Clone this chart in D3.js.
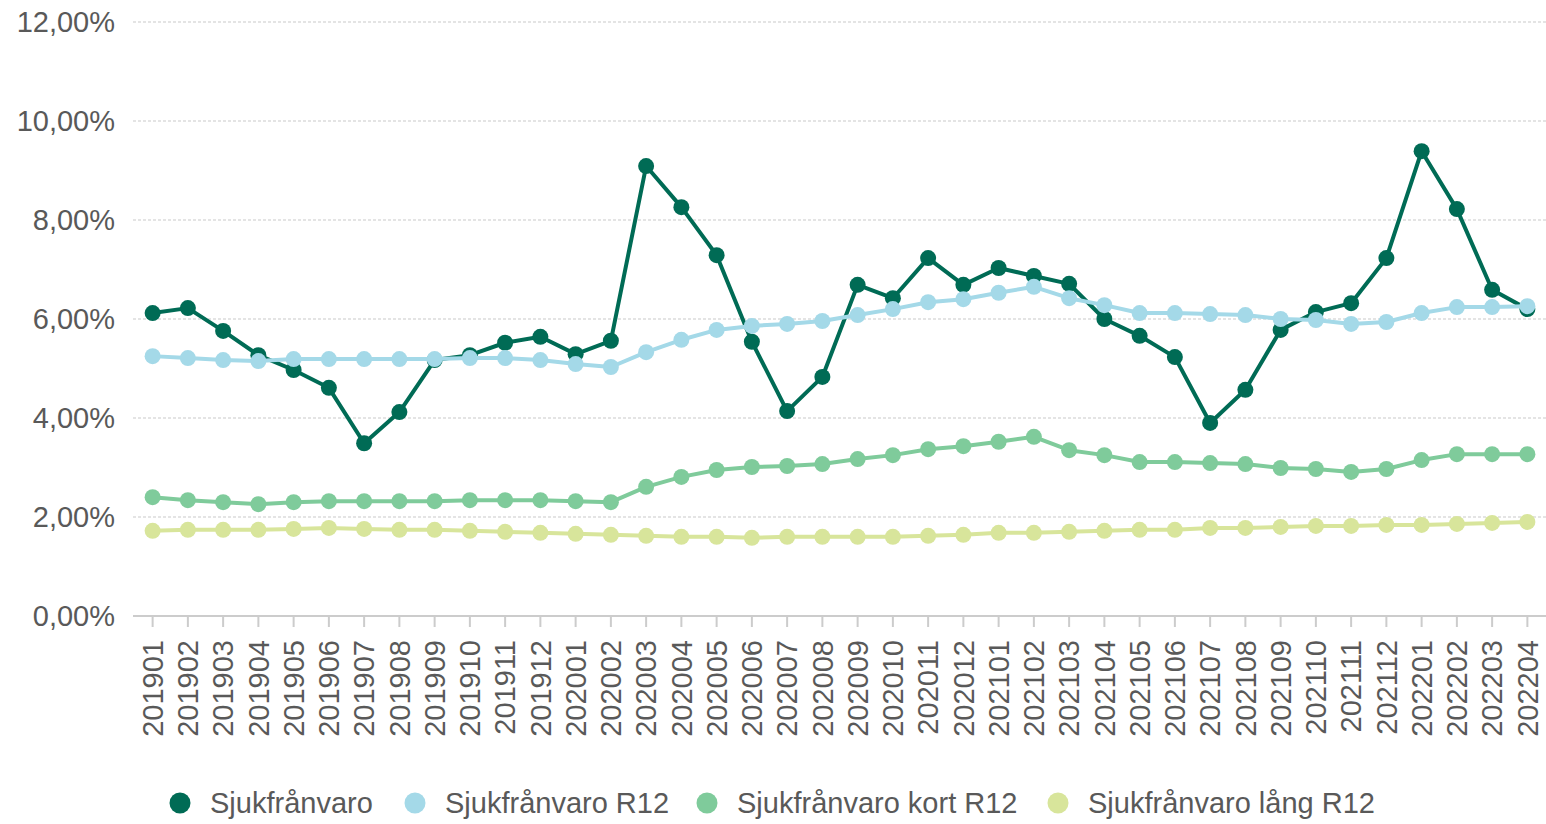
<!DOCTYPE html>
<html>
<head>
<meta charset="utf-8">
<script src="https://cdnjs.cloudflare.com/ajax/libs/d3/7.8.5/d3.min.js"></script>
<style>
  body { margin: 0; background: #fff; }
  text { font-family: "Liberation Sans", Arial, sans-serif; fill: #595959; }
</style>
</head>
<body>
<svg width="1546" height="824"></svg>
<script>
const months = ["201901","201902","201903","201904","201905","201906","201907","201908","201909","201910","201911","201912",
  "202001","202002","202003","202004","202005","202006","202007","202008","202009","202010","202011","202012",
  "202101","202102","202103","202104","202105","202106","202107","202108","202109","202110","202111","202112",
  "202201","202202","202203","202204"];

const sjuk = [6.12,6.22,5.76,5.27,4.97,4.61,3.49,4.12,5.17,5.27,5.52,5.64,
  5.29,5.56,9.09,8.26,7.29,5.54,4.14,4.83,6.69,6.42,7.23,6.69,
  7.03,6.87,6.71,6.00,5.66,5.23,3.90,4.57,5.78,6.14,6.32,7.23,
  9.39,8.22,6.59,6.20];
const sjukR12 = [5.25,5.21,5.17,5.15,5.19,5.19,5.19,5.19,5.19,5.21,5.21,5.17,
  5.09,5.03,5.33,5.58,5.78,5.86,5.90,5.96,6.08,6.20,6.34,6.40,
  6.53,6.65,6.42,6.28,6.12,6.12,6.10,6.08,6.00,5.98,5.90,5.94,
  6.12,6.24,6.24,6.26];
const kortR12 = [2.40,2.34,2.30,2.26,2.30,2.32,2.32,2.32,2.32,2.34,2.34,2.34,
  2.32,2.30,2.61,2.81,2.95,3.01,3.03,3.07,3.17,3.25,3.37,3.43,
  3.52,3.62,3.35,3.25,3.11,3.11,3.09,3.07,2.99,2.97,2.91,2.97,
  3.15,3.27,3.27,3.27];
const langR12 = [1.72,1.74,1.74,1.74,1.76,1.78,1.76,1.74,1.74,1.72,1.70,1.68,
  1.66,1.64,1.62,1.60,1.60,1.58,1.60,1.60,1.60,1.60,1.62,1.64,
  1.68,1.68,1.70,1.72,1.74,1.74,1.78,1.78,1.80,1.82,1.82,1.84,
  1.84,1.86,1.88,1.90];

const seriesNames = ["Sjukfrånvaro","Sjukfrånvaro R12","Sjukfrånvaro kort R12","Sjukfrånvaro lång R12"];
const seriesColors = ["#006b55","#a4d9e8","#7fcb9b","#d8e59b"];
const yTicks = [0,2,4,6,8,10,12];

const series = [sjuk, sjukR12, kortR12, langR12].map((vals, i) => ({
  name: seriesNames[i], color: seriesColors[i],
  values: vals.map((v, j) => ({ m: months[j], v: v }))
}));

const svg = d3.select("svg");

const x = d3.scaleBand().domain(months).range([135, 1545]);
const y = d3.scaleLinear().domain([0, 12]).range([616, 22]);
const fmt = v => d3.format(".2f")(v).replace(".", ",") + "%";

// grid
svg.append("g")
  .selectAll("line")
  .data(yTicks.filter(d => d > 0))
  .enter().append("line")
  .attr("x1", 133).attr("x2", 1546)
  .attr("y1", d => y(d)).attr("y2", d => y(d))
  .attr("stroke", "#dcdcdc")
  .attr("stroke-width", 1.5)
  .attr("stroke-dasharray", "3,2");

// y labels
svg.append("g")
  .selectAll("text")
  .data(yTicks)
  .enter().append("text")
  .attr("x", 115)
  .attr("y", d => y(d))
  .attr("dy", "0.35em")
  .attr("text-anchor", "end")
  .style("font-size", "29px")
  .text(fmt);

// x axis
const xAxis = svg.append("g")
  .attr("transform", "translate(0,616)")
  .call(d3.axisBottom(x).tickSize(11).tickPadding(13).tickSizeOuter(0));
xAxis.select(".domain").attr("stroke", "#cccccc").attr("stroke-width", 2).attr("d", "M133,0H1546");
xAxis.selectAll(".tick line").attr("stroke", "#cccccc").attr("stroke-width", 2);
xAxis.selectAll(".tick text")
  .attr("transform", "rotate(-90)")
  .attr("text-anchor", "end")
  .attr("x", -24)
  .attr("y", 0)
  .attr("dy", "0.35em")
  .style("font-size", "29px")
  .style("font-family", "'Liberation Sans', Arial, sans-serif")
  .attr("fill", "#595959");

const cx = d => x(d.m) + x.bandwidth() / 2;

const line = d3.line().x(cx).y(d => y(d.v));

const g = svg.append("g")
  .selectAll("g")
  .data(series)
  .enter().append("g");

g.append("path")
  .attr("d", d => line(d.values))
  .attr("fill", "none")
  .attr("stroke", d => d.color)
  .attr("stroke-width", 4)
  .attr("stroke-linejoin", "round");

g.each(function (s) {
  d3.select(this).selectAll("circle")
    .data(s.values)
    .enter().append("circle")
    .attr("cx", cx)
    .attr("cy", d => y(d.v))
    .attr("r", 8)
    .attr("fill", s.color);
});

// legend
const legendX = [180, 415, 707, 1058];
const legend = svg.append("g")
  .selectAll("g")
  .data(series)
  .enter().append("g")
  .attr("transform", (d, i) => "translate(" + legendX[i] + ",803)");
legend.append("circle").attr("r", 10.5).attr("fill", d => d.color);
legend.append("text")
  .attr("x", 30)
  .attr("dy", "0.35em")
  .style("font-size", "29px")
  .text(d => d.name);
</script>
</body>
</html>
